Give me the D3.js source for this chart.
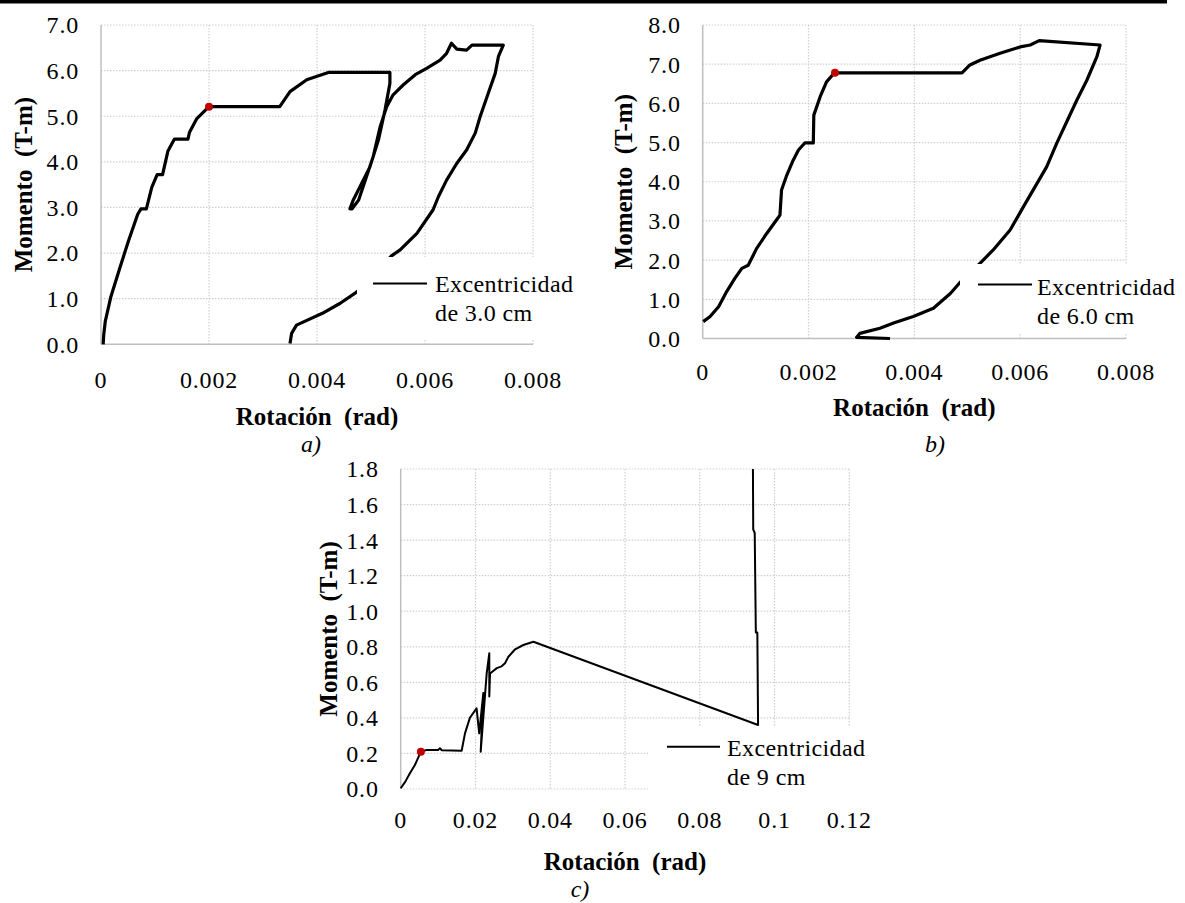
<!DOCTYPE html>
<html>
<head>
<meta charset="utf-8">
<script src="https://cdn.jsdelivr.net/npm/d3@7.9.0/dist/d3.min.js"></script>
<style>
  body { margin: 0; background: #fff; }
  svg { display: block; }
  svg text { fill: #000; white-space: pre; font-family: "Liberation Serif", "Times New Roman", Tinos, serif; }
</style>
</head>
<body>
<svg id="fig" width="1185" height="903"></svg>
<script>
// --- data ---
// a) excentricidad 3.0 cm
const rotA = [0.00004, 0.00005, 0.00008, 0.00018, 0.00035, 0.00051, 0.00068, 0.00074, 0.00084, 0.00094,
  0.00104, 0.00114, 0.00124, 0.00136, 0.00161, 0.00164, 0.00177, 0.00200, 0.00331, 0.00350,
  0.00381, 0.00421, 0.00535, 0.00535, 0.00526, 0.00514, 0.00498, 0.00467, 0.00461, 0.00465,
  0.00477, 0.00504, 0.00517, 0.00529, 0.00541, 0.00560, 0.00582, 0.00603, 0.00628, 0.00640,
  0.00649, 0.00659, 0.00677, 0.00687, 0.00745, 0.00736, 0.00730, 0.00717, 0.00702, 0.00693,
  0.00677, 0.00659, 0.00640, 0.00625, 0.00615, 0.00585, 0.00554, 0.00538, 0.00474, 0.00443,
  0.00410, 0.00362, 0.00353, 0.00350];
const momA = [0.00, 0.20, 0.51, 1.03, 1.68, 2.27, 2.85, 2.97, 2.97, 3.44,
  3.72, 3.72, 4.24, 4.50, 4.50, 4.65, 4.94, 5.21, 5.21, 5.54,
  5.80, 5.96, 5.96, 5.72, 5.14, 4.49, 3.89, 3.16, 2.97, 2.97,
  3.16, 4.11, 4.77, 5.21, 5.47, 5.69, 5.91, 6.05, 6.23, 6.38,
  6.60, 6.47, 6.45, 6.56, 6.56, 6.31, 5.94, 5.50, 4.99, 4.63,
  4.26, 3.97, 3.60, 3.24, 2.95, 2.43, 2.07, 1.94, 1.15, 0.90,
  0.68, 0.42, 0.24, 0.02];
const yieldA = [0.0020, 5.21];

// b) excentricidad 6.0 cm
const rotB = [0.00001, 0.00014, 0.00030, 0.00045, 0.00061, 0.00074, 0.00086, 0.00102, 0.00121, 0.00137,
  0.00146, 0.00149, 0.00159, 0.00171, 0.00181, 0.00193, 0.00209, 0.00210, 0.00222, 0.00234,
  0.00249, 0.00490, 0.00505, 0.00524, 0.00562, 0.00600, 0.00619, 0.00636, 0.00751, 0.00745,
  0.00726, 0.00707, 0.00688, 0.00669, 0.00650, 0.00628, 0.00606, 0.00581, 0.00549, 0.00524,
  0.00485, 0.00468, 0.00436, 0.00398, 0.00362, 0.00335, 0.00297, 0.00291, 0.00354];
const momB = [0.43, 0.56, 0.81, 1.19, 1.54, 1.79, 1.87, 2.30, 2.68, 2.98,
  3.15, 3.79, 4.17, 4.55, 4.81, 4.99, 4.99, 5.70, 6.17, 6.55,
  6.78, 6.78, 6.98, 7.10, 7.28, 7.44, 7.49, 7.60, 7.49, 7.19,
  6.59, 6.08, 5.53, 4.98, 4.38, 3.87, 3.36, 2.77, 2.26, 1.92,
  1.41, 1.15, 0.77, 0.56, 0.40, 0.26, 0.13, 0.03, 0.00];
const yieldB = [0.0025, 6.78];

// c) excentricidad 9 cm
const rotC = [0.0000, 0.0012, 0.0025, 0.0038, 0.0054, 0.0070, 0.0100, 0.0105, 0.0110, 0.0163,
  0.0172, 0.0185, 0.0203, 0.0210, 0.0221, 0.0214, 0.0230, 0.0237, 0.0237, 0.0239,
  0.0257, 0.0270, 0.0279, 0.0288, 0.0306, 0.0328, 0.0355, 0.0956, 0.0954, 0.0950,
  0.0947, 0.0943, 0.0942];
const momC = [0.004, 0.04, 0.09, 0.135, 0.21, 0.22, 0.22, 0.229, 0.218, 0.215,
  0.313, 0.40, 0.454, 0.313, 0.54, 0.21, 0.65, 0.763, 0.52, 0.65,
  0.68, 0.69, 0.707, 0.744, 0.786, 0.81, 0.828, 0.36, 0.88, 0.88,
  1.44, 1.46, 1.90];
const yieldC = [0.0054, 0.21];

// ticks
const xTicksAB = [0, 0.002, 0.004, 0.006, 0.008];
const xTicksC = [0, 0.02, 0.04, 0.06, 0.08, 0.1, 0.12];
const yTicksA = [0, 1, 2, 3, 4, 5, 6, 7];
const yTicksB = [0, 1, 2, 3, 4, 5, 6, 7, 8];
const yTicksC = [0, 0.2, 0.4, 0.6, 0.8, 1.0, 1.2, 1.4, 1.6, 1.8];
const legendA = ["Excentricidad", "de 3.0 cm"];
const legendB = ["Excentricidad", "de 6.0 cm"];
const legendC = ["Excentricidad", "de 9 cm"];
const xTitle = "Rotación  (rad)";
const yTitle = "Momento  (T-m)";

const svg = d3.select("#fig");
svg.append("rect").attr("width", 1185).attr("height", 903).attr("fill", "#fff");
// header rule
svg.append("rect").attr("x", 0).attr("y", 0).attr("width", 1167).attr("height", 3.5).attr("fill", "#000");

function panel(o) {
  const x = d3.scaleLinear().domain(o.xDom).range([o.left, o.right]);
  const y = d3.scaleLinear().domain(o.yDom).range([o.bottom, o.top]);
  const g = svg.append("g");
  const grid = "#cfcfcf";

  // grid
  g.selectAll(".hg").data(o.yTicks.filter(d => o.bottomDotted ? true : d > 0)).join("line")
    .attr("x1", o.left).attr("x2", o.right)
    .attr("y1", d => y(d)).attr("y2", d => y(d))
    .attr("stroke", grid).attr("stroke-width", 1.2).attr("stroke-dasharray", "1.5,1.5");
  g.selectAll(".vg").data(o.xTicks.filter(d => d > 0)).join("line")
    .attr("x1", d => x(d)).attr("x2", d => x(d))
    .attr("y1", o.top).attr("y2", o.bottom)
    .attr("stroke", grid).attr("stroke-width", 1.2).attr("stroke-dasharray", "1.5,1.5");
  // axes lines
  g.append("line").attr("x1", o.left).attr("x2", o.left).attr("y1", o.top).attr("y2", o.bottom)
    .attr("stroke", "#bfbfbf").attr("stroke-width", 1.5);
  if (!o.bottomDotted) {
    g.append("line").attr("x1", o.left).attr("x2", o.right).attr("y1", o.bottom).attr("y2", o.bottom)
      .attr("stroke", "#bfbfbf").attr("stroke-width", 1.5);
  }

  // curve
  const clipId = "clip" + o.id;
  svg.append("clipPath").attr("id", clipId).append("rect")
    .attr("x", o.left - 5).attr("y", o.top).attr("width", o.right - o.left + 10).attr("height", o.bottom - o.top + 5);
  const pts = o.rot.map((r, i) => [r, o.mom[i]]);
  g.append("path").datum(pts)
    .attr("clip-path", `url(#${clipId})`)
    .attr("d", d3.line().x(d => x(d[0])).y(d => y(d[1])))
    .attr("fill", "none").attr("stroke", "#000").attr("stroke-width", o.lw)
    .attr("stroke-linejoin", "round");
  g.append("circle").attr("cx", x(o.yieldPt[0])).attr("cy", y(o.yieldPt[1])).attr("r", 4)
    .attr("fill", "#c00000");

  // legend (white box hides what is behind)
  g.append("rect").attr("x", o.leg.x).attr("y", o.leg.y).attr("width", o.leg.w).attr("height", o.leg.h)
    .attr("fill", "#fff");
  g.append("line").attr("x1", o.leg.lx1).attr("x2", o.leg.lx2).attr("y1", o.leg.ly).attr("y2", o.leg.ly)
    .attr("stroke", "#000").attr("stroke-width", 2);
  g.selectAll(".lt").data(o.legText).join("text")
    .attr("x", o.leg.tx).attr("y", (d, i) => o.leg.ty + i * 29)
    .style("font-size", "24px").style("letter-spacing", "0.4px").text(d => d);

  // tick labels
  g.selectAll(".yl").data(o.yTicks).join("text")
    .attr("x", o.left - 22).attr("y", d => y(d)).attr("dy", "0.35em")
    .attr("text-anchor", "end").style("font-size", "24px").style("letter-spacing", "0.8px")
    .text(d => d3.format(".1f")(d));
  g.selectAll(".xl").data(o.xTicks).join("text")
    .attr("x", d => x(d)).attr("y", o.bottom + o.xlOff)
    .attr("text-anchor", "middle").style("font-size", "24px").style("letter-spacing", "0.8px")
    .text(d => d === 0 ? "0" : String(+d.toFixed(4)));

  // titles
  g.append("text").attr("x", (o.left + o.right) / 2).attr("y", o.xtY)
    .attr("text-anchor", "middle").style("font-size", "25px").style("font-weight", "bold").text(xTitle);
  g.append("text").attr("transform", `translate(${o.ytX},${(o.top + o.bottom) / 2}) rotate(-90)`)
    .attr("text-anchor", "middle").attr("dy", "0.35em")
    .style("font-size", "25px").style("font-weight", "bold").text(yTitle);
  g.append("text").attr("x", o.capX).attr("y", o.capY)
    .attr("text-anchor", "middle").style("font-size", "24px").style("font-style", "italic").text(o.cap);
}

panel({ id: "a", rot: rotA, mom: momA, yieldPt: yieldA, xDom: [0, 0.008], yDom: [0, 7],
  left: 101, right: 533, top: 25, bottom: 344.3, xTicks: xTicksAB, yTicks: yTicksA, lw: 3.2,
  leg: { x: 357, y: 257, w: 228, h: 82, lx1: 373, lx2: 427, ly: 283.5, tx: 435, ty: 292 },
  legText: legendA, xlOff: 43.5, xtY: 425, ytX: 23, capX: 311, capY: 452, cap: "a)" });

panel({ id: "b", rot: rotB, mom: momB, yieldPt: yieldB, xDom: [0, 0.008], yDom: [0, 8],
  left: 702.7, right: 1126, top: 25, bottom: 338.5, xTicks: xTicksAB, yTicks: yTicksB, lw: 3.2,
  leg: { x: 960, y: 264, w: 225, h: 70, lx1: 978, lx2: 1032, ly: 284.5, tx: 1037, ty: 295 },
  legText: legendB, xlOff: 41.5, xtY: 416, ytX: 623, capX: 935, capY: 452, cap: "b)" });

panel({ id: "c", rot: rotC, mom: momC, yieldPt: yieldC, xDom: [0, 0.12], yDom: [0, 1.8],
  left: 400.7, right: 849.3, top: 469, bottom: 789, xTicks: xTicksC, yTicks: yTicksC, lw: 2, bottomDotted: true,
  leg: { x: 648, y: 726, w: 225, h: 76, lx1: 667, lx2: 720, ly: 746.7, tx: 727, ty: 756 },
  legText: legendC, xlOff: 39, xtY: 870, ytX: 328, capX: 580, capY: 897, cap: "c)" });
</script>
</body>
</html>
